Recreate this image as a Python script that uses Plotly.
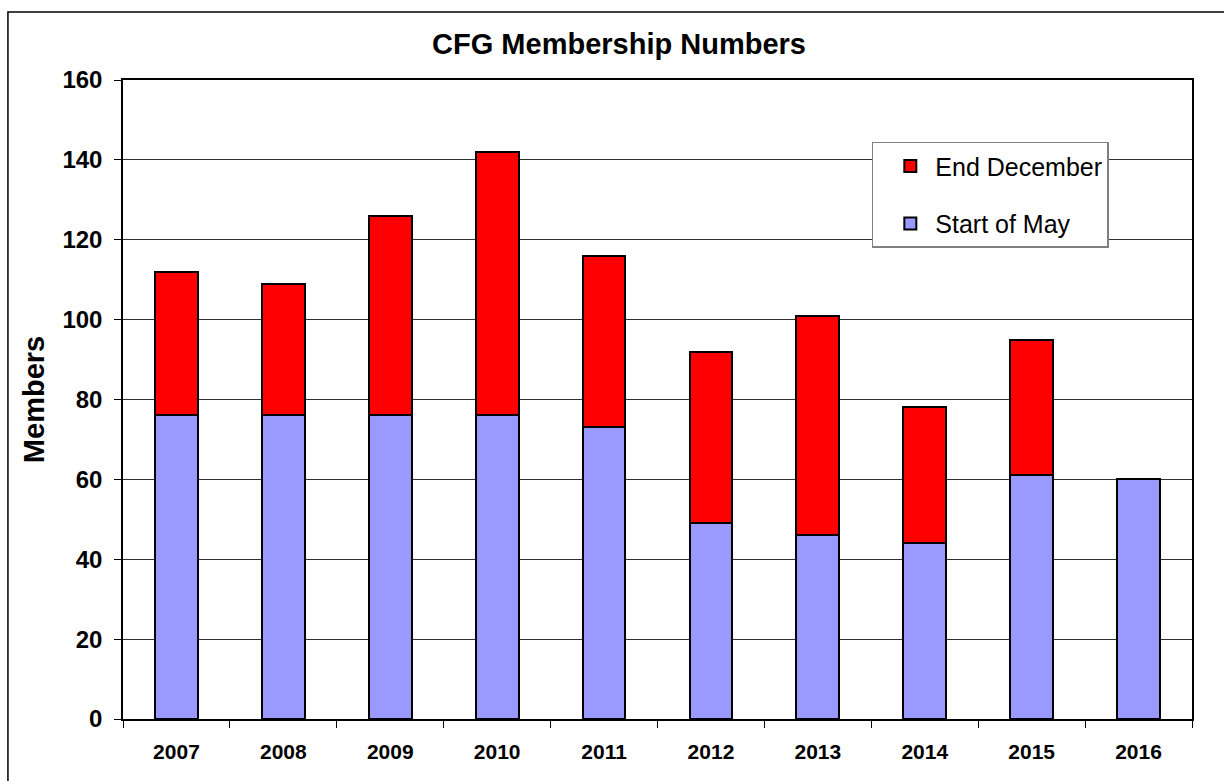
import plotly.graph_objects as go

years = ["2007", "2008", "2009", "2010", "2011", "2012", "2013", "2014", "2015", "2016"]
start_of_may = [76, 76, 76, 76, 73, 49, 46, 44, 61, 60]
end_december = [112, 109, 126, 142, 116, 92, 101, 78, 95, None]
y_ticks = [0, 20, 40, 60, 80, 100, 120, 140, 160]

growth = [None if e is None else e - s for s, e in zip(start_of_may, end_december)]

W, H = 1224, 781
L, R, T, B = 123.3, 1191.7, 80.0, 719.3
pw, ph = R - L, B - T

fig = go.Figure()
fig.add_trace(go.Bar(
    x=years, y=start_of_may, name="Start of May", legendgroup="a", legendrank=2,
    marker=dict(color="#9999FF", line=dict(color="black", width=2)),
    width=0.4,
))
fig.add_trace(go.Bar(
    x=years, y=growth, name="End December", legendgroup="b", legendrank=1,
    marker=dict(color="#FF0000", line=dict(color="black", width=2)),
    width=0.4,
))

font_family = "Liberation Sans, Arial, sans-serif"

fig.update_layout(
    width=W, height=H,
    margin=dict(l=L, r=W - R, t=T, b=H - B, pad=0, autoexpand=False),
    barmode="stack",
    plot_bgcolor="white", paper_bgcolor="white",
    font=dict(family=font_family, color="black"),
    title=dict(text="<b>CFG Membership Numbers</b>", x=619 / W, xanchor="center",
               y=1 - 44 / H, yanchor="middle", font=dict(size=29, color="black")),
    xaxis=dict(
        type="category", tickson="boundaries", ticks="outside", ticklen=7,
        tickcolor="black", tickwidth=1, showline=True, linecolor="black",
        linewidth=1.5, mirror=True, showgrid=False,
        tickfont=dict(size=21, family=font_family, color="black", weight="bold"),
        ticklabelstandoff=13,
    ),
    yaxis=dict(
        range=[0, 160], tickvals=y_ticks, ticks="outside", ticklen=7,
        tickcolor="black", tickwidth=1, showline=True, linecolor="black",
        linewidth=1.5, mirror=True, showgrid=True, gridcolor="#303030", gridwidth=1,
        zeroline=False,
        tickfont=dict(size=24, family=font_family, color="black", weight="bold"),
        ticklabelstandoff=7,
        title=dict(text="<b>Members</b>", standoff=9,
                   font=dict(size=29, family=font_family, color="black")),
    ),
    showlegend=True,
    legend=dict(
        x=(871.7 - L) / pw, y=(B - 141.7) / ph, xanchor="left", yanchor="top",
        bgcolor="white", bordercolor="#808080", borderwidth=1.5,
        font=dict(size=25, family=font_family, color="black"),
        traceorder="grouped", tracegroupgap=22, itemwidth=40, indentation=12,
    ),
    shapes=[dict(
        type="rect", xref="paper", yref="paper",
        x0=(8.3 - L) / pw, x1=(1232 - L) / pw,
        y0=(B - 800) / ph, y1=(B - 12) / ph,
        line=dict(color="black", width=1.5), fillcolor="rgba(0,0,0,0)", layer="below",
    )],
)

fig.write_html("out.html", config={"displayModeBar": False},
               post_script="document.body.style.margin='0';")
